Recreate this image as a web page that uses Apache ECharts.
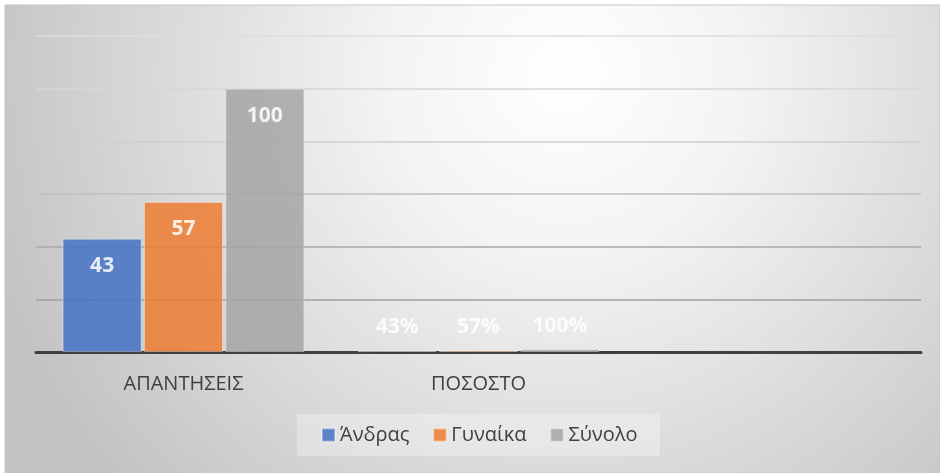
<!DOCTYPE html>
<html>
<head>
<meta charset="utf-8">
<script src="https://cdn.jsdelivr.net/npm/echarts@6/dist/echarts.min.js"></script>
<style>
  html, body { margin: 0; padding: 0; background: #fff; }
  #chart { width: 940px; height: 473px; }
</style>
</head>
<body>
<div id="chart"></div>
<script>
// κατηγορίες και τιμές
var categories = ['ΑΠΑΝΤΗΣΕΙΣ', 'ΠΟΣΟΣΤΟ', ''];
var seriesNames = ['Άνδρας', 'Γυναίκα', 'Σύνολο'];
var andras = [43, 0.43, null];
var gynaika = [57, 0.57, null];
var synolo = [100, 1, null];
var colors = ['#4472c4', '#ed7d31', '#a5a5a5'];

var chart = echarts.init(document.getElementById('chart'));

function makeData(arr) {
  return arr.map(function (v, i) {
    if (i === 1) {
      return { value: v, label: { position: 'top', distance: 13 } };
    }
    return v;
  });
}

function makeSeries(name, arr, color) {
  return {
    name: name,
    type: 'bar',
    barWidth: 79,
    barGap: '3%',
    data: makeData(arr),
    itemStyle: {
      color: color,
      opacity: 0.85,
      borderColor: 'rgba(255,255,255,0.4)',
      borderWidth: 1
    },
    label: {
      show: true,
      position: 'insideTop',
      distance: 17,
      color: '#ffffff',
      fontFamily: 'Open Sans',
      fontWeight: 'bold',
      fontSize: 21,
      formatter: function (p) {
        if (p.dataIndex === 1) return Math.round(p.value * 100) + '%';
        return p.value;
      }
    }
  };
}

var option = {
  animation: false,
  graphic: [{
    type: 'rect',
    z: -10,
    silent: true,
    shape: { x: 5, y: 5, width: 935, height: 468 },
    style: {
      fill: new echarts.graphic.RadialGradient(0.6, 0.15, 1.3, [
        { offset: 0, color: '#ffffff' },
        { offset: 0.3, color: '#f3f3f3' },
        { offset: 1, color: '#c2c2c2' }
      ]),
      stroke: '#c6c6c6',
      lineWidth: 1
    }
  }],
  grid: { left: 36, right: 19, top: 36, bottom: 121 },
  legend: {
    data: seriesNames,
    left: 297,
    top: 414,
    padding: [11, 22, 11, 24],
    backgroundColor: 'rgba(255,255,255,0.3)',
    itemWidth: 13,
    itemHeight: 13,
    itemGap: 23,
    icon: 'rect',
    textStyle: { color: '#404040', fontSize: 20, fontFamily: 'Open Sans' }
  },
  xAxis: {
    type: 'category',
    data: categories,
    axisLine: { lineStyle: { color: '#404040', width: 3 } },
    axisTick: { show: false },
    axisLabel: { color: '#404040', fontSize: 20, fontFamily: 'Open Sans', margin: 22 }
  },
  yAxis: {
    type: 'value',
    min: 0,
    max: 120,
    interval: 20,
    axisLabel: { show: false },
    axisLine: { show: false },
    axisTick: { show: false },
    splitLine: {
      lineStyle: {
        width: 1.5,
        color: new echarts.graphic.LinearGradient(0, 36, 0, 352, [
          { offset: 0, color: '#dedede' },
          { offset: 0.4, color: '#cccccc' },
          { offset: 0.7, color: '#a4a4a4' },
          { offset: 1, color: '#999999' }
        ], true)
      }
    }
  },
  series: [
    makeSeries(seriesNames[0], andras, colors[0]),
    makeSeries(seriesNames[1], gynaika, colors[1]),
    makeSeries(seriesNames[2], synolo, colors[2])
  ]
};

chart.setOption(option);
</script>
</body>
</html>
